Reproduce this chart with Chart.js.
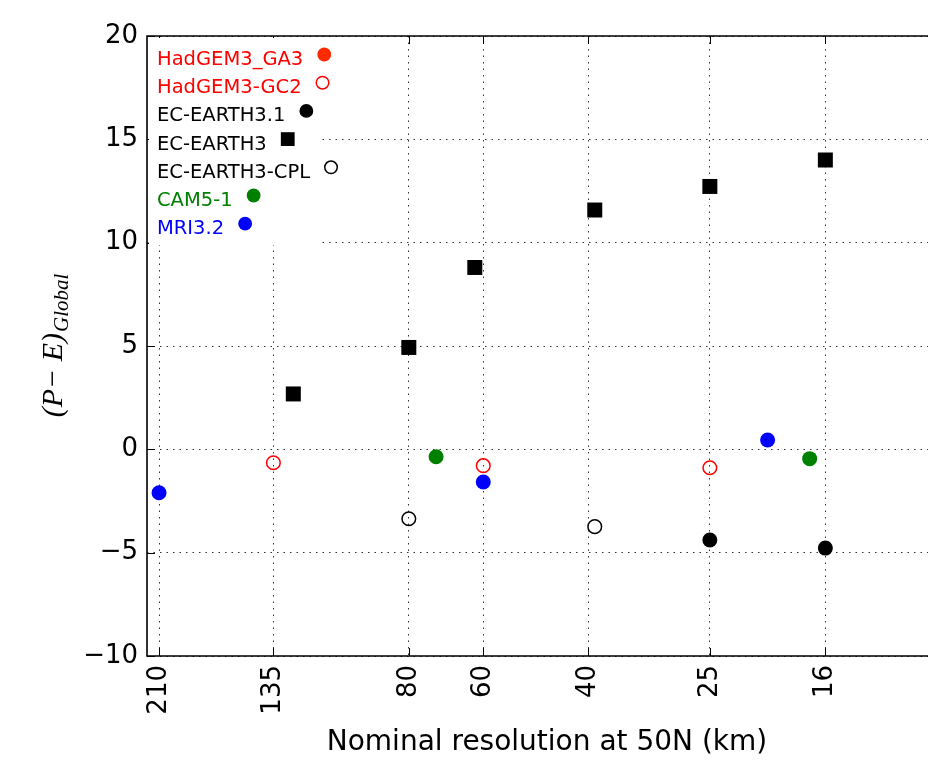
<!DOCTYPE html>
<html>
<head>
<meta charset="utf-8">
<script src="https://cdn.jsdelivr.net/npm/chart.js@4.4.1/dist/chart.umd.min.js"></script>
<style>
  html, body { margin: 0; padding: 0; background: #fff; overflow: hidden; width: 928px; height: 760px; }
  #wrap { width: 928px; height: 760px; overflow: hidden; position: relative; }
  #c { display: block; position: absolute; left: 0; top: 0; }
</style>
</head>
<body>
<div id="wrap"><canvas id="c" width="960" height="760"></canvas></div>
<script>
// Nominal resolution (km) on a reversed log axis, (P-E) global on y.
const xTicks = [210, 135, 80, 60, 40, 25, 16];
const yTicks = [-10, -5, 0, 5, 10, 15, 20];

const ga3Res = [];
const ga3Val = [];
const gc2Res = [135, 60, 25];
const gc2Val = [-0.65, -0.79, -0.89];
const ec31Res = [25, 16];
const ec31Val = [-4.39, -4.78];
const ec3Res = [125, 80, 62, 39, 25, 16];
const ec3Val = [2.68, 4.93, 8.80, 11.58, 12.72, 14.0];
const cplRes = [80, 39];
const cplVal = [-3.36, -3.74];
const camRes = [72, 17];
const camVal = [-0.36, -0.45];
const mriRes = [210, 60, 20];
const mriVal = [-2.10, -1.58, 0.45];

const FONT = "'DejaVu Sans', sans-serif";
const GRIDC = '#333';
const pts = (xs, ys) => xs.map((x, i) => ({ x, y: ys[i] }));

function filled(label, xs, ys, color, textColor, style = 'circle', r = 7.5) {
  return { label, data: pts(xs, ys), textColor, pointStyle: style, pointRadius: r,
    backgroundColor: color, borderColor: color, borderWidth: 0 };
}
function hollow(label, xs, ys, color, textColor) {
  return { label, data: pts(xs, ys), textColor, pointStyle: 'circle', pointRadius: 6.8,
    backgroundColor: 'rgba(0,0,0,0)', borderColor: color, borderWidth: 1.5 };
}

const datasets = [
  filled('HadGEM3_GA3', ga3Res, ga3Val, '#ff2a00', '#ff0000'),
  hollow('HadGEM3-GC2', gc2Res, gc2Val, '#ff0000', '#ff0000'),
  filled('EC-EARTH3.1', ec31Res, ec31Val, '#000000', '#000000'),
  filled('EC-EARTH3', ec3Res, ec3Val, '#000000', '#000000', 'rect', 10.6),
  hollow('EC-EARTH3-CPL', cplRes, cplVal, '#000000', '#000000'),
  filled('CAM5-1', camRes, camVal, '#008000', '#008000'),
  filled('MRI3.2', mriRes, mriVal, '#0000ff', '#0000ff'),
];

// frame (left, top, bottom), inside ticks, y title and the in-plot legend
const decor = {
  id: 'decor',
  afterDraw(chart) {
    const { ctx, chartArea: a, scales: { x, y } } = chart;
    ctx.save();
    ctx.strokeStyle = '#000';
    ctx.lineWidth = 1;
    ctx.beginPath();
    xTicks.forEach(v => {
      const px = Math.round(x.getPixelForValue(v)) + 0.5;
      ctx.moveTo(px, a.bottom); ctx.lineTo(px, a.bottom - 8);
      ctx.moveTo(px, a.top); ctx.lineTo(px, a.top + 8);
    });
    yTicks.forEach(v => {
      const py = Math.round(y.getPixelForValue(v)) + 0.5;
      ctx.moveTo(a.left, py); ctx.lineTo(a.left + 8, py);
    });
    ctx.stroke();
    ctx.lineWidth = 1.6;
    ctx.beginPath();
    ctx.moveTo(a.right, a.top);
    ctx.lineTo(a.left, a.top);
    ctx.lineTo(a.left, a.bottom);
    ctx.lineTo(a.right, a.bottom);
    ctx.stroke();

    // y axis title: (P - E) with subscript Global
    ctx.translate(62, (a.top + a.bottom) / 2);
    ctx.rotate(-Math.PI / 2);
    ctx.fillStyle = '#000';
    ctx.textBaseline = 'alphabetic';
    const main = '(P\u2212 E)';
    const fMain = "italic 30px 'Liberation Serif', serif";
    const fSub = "italic 21px 'Liberation Serif', serif";
    ctx.font = fMain;
    const wMain = ctx.measureText(main).width;
    ctx.font = fSub;
    const wSub = ctx.measureText('Global').width;
    const x0 = -(wMain + wSub) / 2;
    ctx.font = fMain;
    ctx.fillText(main, x0, 0);
    ctx.font = fSub;
    ctx.fillText('Global', x0 + wMain + 1, 6);
    ctx.setTransform(1, 0, 0, 1, 0, 0);

    // legend
    ctx.fillStyle = '#fff';
    ctx.fillRect(a.left + 2, a.top + 2, 170, 207);
    ctx.font = '19.5px ' + FONT;
    ctx.textBaseline = 'alphabetic';
    chart.data.datasets.forEach((ds, i) => {
      const base = 65 + i * 28.2;
      ctx.fillStyle = ds.textColor;
      ctx.fillText(ds.label, 157, base);
      const w = ctx.measureText(ds.label).width;
      ctx.fillStyle = ds.backgroundColor;
      ctx.strokeStyle = ds.borderColor;
      ctx.lineWidth = ds.borderWidth;
      Chart.helpers.drawPoint(ctx, {
        pointStyle: ds.pointStyle, radius: ds.pointRadius * 0.92, rotation: 0,
        borderWidth: ds.borderWidth
      }, 157 + w + 21, base - 10.5);
      ctx.font = '19.5px ' + FONT;
    });
    ctx.restore();
  }
};

new Chart(document.getElementById('c'), {
  type: 'scatter',
  data: { datasets },
  options: {
    responsive: false,
    animation: false,
    layout: { padding: { top: 36, right: 13, left: 0, bottom: 0 } },
    plugins: { legend: { display: false }, tooltip: { enabled: false } },
    scales: {
      x: {
        type: 'logarithmic', reverse: true, min: 10, max: 220,
        afterBuildTicks: s => { s.ticks = xTicks.map(v => ({ value: v })); },
        afterFit: s => { s.height = 104; },
        ticks: { autoSkip: false, minRotation: 90, maxRotation: 90, padding: 9, color: '#000',
          font: { family: FONT, size: 26 }, callback: v => String(v) },
        grid: { color: GRIDC, lineWidth: 1, drawTicks: false },
        border: { display: false, dash: [1.5, 5] },
        title: { display: true, text: 'Nominal resolution at 50N (km)', color: '#000',
          font: { family: FONT, size: 28 }, padding: { top: 0, bottom: 0 } }
      },
      y: {
        min: -10, max: 20,
        afterBuildTicks: s => { s.ticks = yTicks.map(v => ({ value: v })); },
        afterFit: s => { s.width = 147; },
        ticks: { padding: 9, color: '#000', font: { family: FONT, size: 26 },
          callback: v => String(v).replace('-', '\u2212') },
        grid: { color: GRIDC, lineWidth: 1, drawTicks: false },
        border: { display: false, dash: [1.5, 5] }
      }
    }
  },
  plugins: [decor]
});
</script>
</body>
</html>
